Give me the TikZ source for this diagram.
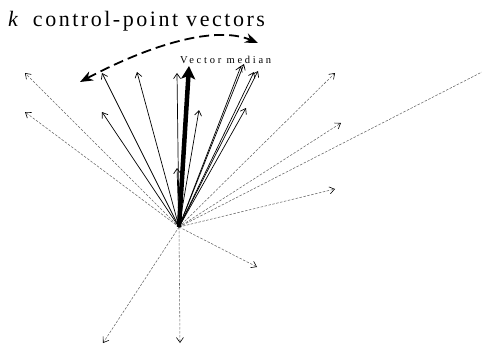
\documentclass[tikz,border=0pt]{standalone}
\usepackage{fontspec}
\setmainfont{Liberation Serif}
\usetikzlibrary{arrows.meta}

\begin{document}
\begin{tikzpicture}[x=1pt,y=-1pt,
  vec/.style={line width=0.7pt,-{Straight Barb[length=5pt,width=7pt,line width=0.7pt]}},
  cand/.style={color=black!60,line width=0.55pt,dash pattern=on 2.5pt off 1.5pt,
    -{Straight Barb[length=5pt,width=7pt,line width=0.6pt,color=black]}},
  median/.style={line width=4.5pt,-{Stealth[length=13pt,width=14pt,inset=3pt]}},
  sweep/.style={line width=1.8pt,dash pattern=on 10pt off 5pt,
    {Stealth[length=13pt,width=10pt]}-{Stealth[length=13pt,width=10pt]}},
  title/.style={inner sep=0pt,anchor=base west,
    font=\fontsize{22}{26}\selectfont\addfontfeatures{LetterSpace=11.5}},
  lbl/.style={inner sep=0pt,anchor=base west,
    font=\fontsize{10.5}{12}\selectfont\addfontfeatures{LetterSpace=26}}
]
\useasboundingbox (0,0) rectangle (482,345);

% common origin of all vectors
\coordinate (O) at (179,227);

% control-point vectors (solid)
\coordinate (s1) at (102,73);
\coordinate (s2) at (102,112);
\coordinate (s3) at (137,72);
\coordinate (s4) at (177,73);
\coordinate (s5) at (177,168);
\coordinate (s6) at (199,110);
\coordinate (r1) at (241,66);
\coordinate (r2) at (244,64);
\coordinate (r3) at (254,72);
\coordinate (r4) at (258,71);
\coordinate (r5) at (246,108);
\coordinate (med) at (189,66);

% remaining vectors (dashed)
\coordinate (d1) at (25,73);
\coordinate (d2) at (25,112);
\coordinate (d3) at (335,73);
\coordinate (d4) at (341,123);
\coordinate (d5) at (335,189);
\coordinate (d6) at (482,72);
\coordinate (d7) at (257,267);
\coordinate (d8) at (180,343);
\coordinate (d9) at (103,343);

\foreach \t in {d1,d2,d3,d4,d5,d7,d8,d9}
  \draw[cand] (O) -- (\t);
\draw[cand,-] (O) -- (d6);

\foreach \t in {s1,s2,s3,s4,s5,s6,r1,r2,r3,r4,r5}
  \draw[vec] (O) -- (\t);

\draw[median] (O) -- (med);

% sweep over the k control-point vectors
\coordinate (sweepL) at (80,82);
\coordinate (sweepR) at (258,43);
\draw[sweep] (sweepL) .. controls (150,45) and (215,25) .. (sweepR);

\node[title] (ttl) at (8,27) {{\itshape k}\hspace{15pt}control-point vectors};
\node[lbl] (vm) at (180,63.3) {Vector median};
\end{tikzpicture}
\end{document}
